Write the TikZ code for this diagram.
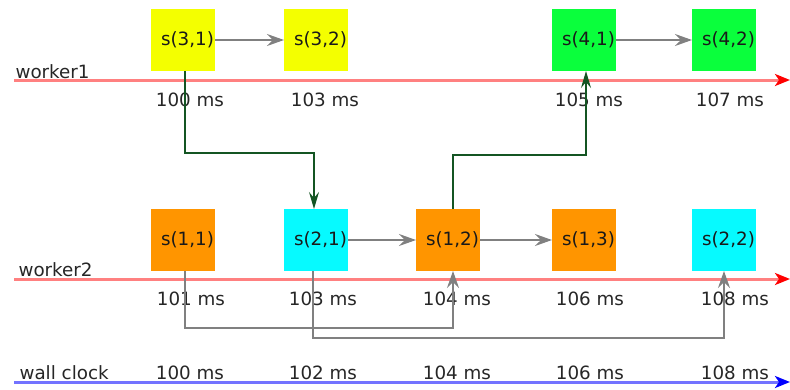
\documentclass[tikz,border=0pt]{standalone}
\usepackage{fontspec}
\setmainfont{DejaVu Sans}
\usetikzlibrary{arrows.meta}
\definecolor{etapaamarilla}{RGB}{244,255,0}
\definecolor{etapaverde}{RGB}{10,255,60}
\definecolor{etapanaranja}{RGB}{255,149,0}
\definecolor{etapacian}{RGB}{6,250,255}
\definecolor{enlaceverde}{RGB}{20,85,35}

\begin{document}
\begin{tikzpicture}[x=1pt, y=-1pt, >=Stealth, font=\fontsize{18.3}{21}\selectfont,
    stage/.style={minimum width=64pt, minimum height=62pt, inner sep=0pt, outer sep=0pt,
        text=black!90, execute at begin node={\hspace*{9pt}}},
    flow/.style={->, gray, line width=1.3pt, arrows={-Stealth[length=17pt,width=12pt,inset=6pt]}},
    dep/.style={->, enlaceverde, line width=1.3pt, arrows={-Stealth[length=17pt,width=10pt,inset=6pt]}},
    tiempo/.style={anchor=base, text=black!85}]
    \useasboundingbox (0,0) rectangle (790,389);
    % lineas de tiempo
    \coordinate (w1a) at (14,80);  \coordinate (w1b) at (790,80);
    \coordinate (w2a) at (14,279); \coordinate (w2b) at (790,279);
    \coordinate (wca) at (14,382); \coordinate (wcb) at (790,382);
    \draw[red!50, line width=3pt, arrows={-Stealth[length=15pt,width=12pt,inset=4pt,red]}] (w1a)--(w1b);
    \draw[red!50, line width=3pt, arrows={-Stealth[length=15pt,width=12pt,inset=4pt,red]}] (w2a)--(w2b);
    \draw[blue!55, line width=3pt, arrows={-Stealth[length=15pt,width=12pt,inset=4pt,blue]}] (wca)--(wcb);
    \node[anchor=base west, text=black!85] (lw1) at (12,78) {worker1};
    \node[anchor=base west, text=black!85] (lw2) at (15,276) {worker2};
    \node[anchor=base west, text=black!85] (lwc) at (16,379) {wall clock};
    % etapas
    \node[stage,fill=etapaamarilla] (s31) at (183,40) {s(3,1)};
    \node[stage,fill=etapaamarilla] (s32) at (316,40) {s(3,2)};
    \node[stage,fill=etapaverde] (s41) at (584,40) {s(4,1)};
    \node[stage,fill=etapaverde] (s42) at (724,40) {s(4,2)};
    \node[stage,fill=etapanaranja] (s11) at (183,240) {s(1,1)};
    \node[stage,fill=etapacian] (s21) at (316,240) {s(2,1)};
    \node[stage,fill=etapanaranja] (s12) at (448,240) {s(1,2)};
    \node[stage,fill=etapanaranja] (s13) at (584,240) {s(1,3)};
    \node[stage,fill=etapacian] (s22) at (724,240) {s(2,2)};
    % tiempos
    \node[tiempo] (t31) at (190,106) {100 ms};
    \node[tiempo] (t32) at (325,106) {103 ms};
    \node[tiempo] (t41) at (589,106) {105 ms};
    \node[tiempo] (t42) at (730,106) {107 ms};
    \node[tiempo] (t11) at (191,305) {101 ms};
    \node[tiempo] (t21) at (323,305) {103 ms};
    \node[tiempo] (t12) at (457,305) {104 ms};
    \node[tiempo] (t13) at (590,305) {106 ms};
    \node[tiempo] (t22) at (735,305) {108 ms};
    \foreach \t/\x in {100/190,102/323,104/457,106/590,108/735}
        \node[tiempo] (wc\t) at (\x,379) {\t\ ms};
    % dependencias
    \draw[flow] (s31)--(s32);
    \draw[flow] (s41)--(s42);
    \draw[flow] (s21)--(s12);
    \draw[flow] (s12)--(s13);
    \draw[flow] ([xshift=2pt]s11.south) -- ++(0,57) -| ([xshift=5pt]s12.south);
    \draw[flow] ([xshift=-3pt]s21.south) -- ++(0,67) -| (s22.south);
    \draw[dep] ([xshift=2pt]s31.south) -- ++(0,82) -| ([xshift=-2pt]s21.north);
    \draw[dep] ([xshift=5pt]s12.north) -- ++(0,-54) -| ([xshift=2pt]s41.south);
\end{tikzpicture}
\end{document}
